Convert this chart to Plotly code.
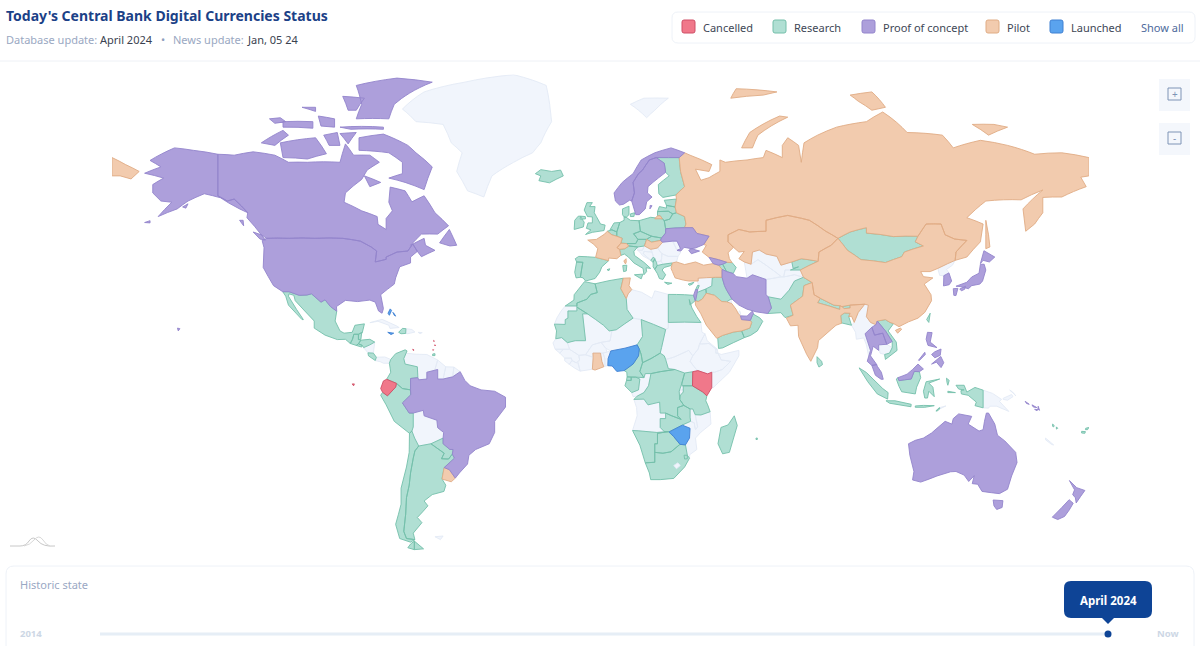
import plotly.graph_objects as go

# status of each country
cancelled = ["Ecuador", "Kenya", "Galapagos", "Curacao", "Eastern Caribbean"]
research = ["Mexico", "Guatemala", "Belize", "El Salvador", "Honduras", "Costa Rica", "Haiti", "Trinidad", "Colombia", "Peru",
            "Chile", "Argentina", "Paraguay", "Iceland", "UK", "Ireland", "Spain", "Portugal", "Belgium", "Netherlands",
            "Germany", "Denmark", "Austria", "Italy", "Poland", "Czechia", "Slovakia", "Montenegro", "Albania", "Greece",
            "Finland", "Estonia", "Latvia", "Lithuania", "Belarus", "Morocco", "Algeria", "Mauritania", "Egypt", "Chad",
            "Cameroon", "CAR", "Eq Guinea", "Gabon", "DRC", "Uganda", "Tanzania", "Zambia", "Namibia", "Botswana",
            "South Africa", "Eswatini", "Madagascar", "Mauritius", "Yemen", "Oman", "Iraq", "Jordan", "Lebanon", "Cyprus",
            "Armenia", "Azerbaijan", "Pakistan", "Kyrgyzstan", "Mongolia", "Nepal", "Bhutan", "Bangladesh", "Sri Lanka",
            "Vietnam", "Indonesia", "Taiwan", "Vanuatu", "Fiji"]
proof_of_concept = ["USA", "Canada", "Brazil", "Norway", "Sweden", "Ukraine", "Georgia", "Iran", "Israel", "UAE", "Thailand",
                    "Laos", "Malaysia", "Philippines", "South Korea", "Japan", "Australia", "New Zealand", "Solomon Islands"]
pilot = ["Russia", "China", "India", "Kazakhstan", "Turkey", "Saudi Arabia", "France", "Switzerland", "Hungary", "Tunisia",
         "Ghana", "Uruguay"]
launched = ["Nigeria", "Zimbabwe", "Bahamas", "Jamaica"]
no_status = ["Greenland", "Svalbard", "Cuba", "Dominican Rep", "Puerto Rico", "Nicaragua", "Panama", "Venezuela", "Guyana",
             "Suriname", "French Guiana", "Bolivia", "Falklands", "Slovenia", "Croatia", "Bosnia", "Serbia", "N Macedonia",
             "Romania", "Moldova", "Bulgaria", "W Sahara", "Libya", "Sudan", "South Sudan", "Niger", "Mali", "Senegal",
             "Guinea", "Guinea-Bissau", "Sierra Leone", "Liberia", "Ivory Coast", "Burkina Faso", "Togo", "Benin", "Congo",
             "Angola", "Mozambique", "Malawi", "Rwanda", "Burundi", "Ethiopia", "Eritrea", "Djibouti", "Somalia",
             "Qatar", "Kuwait", "Syria", "Afghanistan", "Turkmenistan", "Uzbekistan", "Tajikistan", "Myanmar", "Cambodia",
             "North Korea", "PNG", "Timor-Leste", "New Caledonia"]
# sits inside South Africa, so it goes on top
enclaves = ["Lesotho"]

# rough country outlines, lon/lat
outlines = {
    "Russia": [
        [(27.8,60.5),(31,62.5),(29.5,66),(29,69),(31,70),(33,69.5),(41,67.5),(40,66),(35,66.5),(37,64),(40,64.6),(44,66),(44,68.5),(46,68),(54,68.5),(60,69),(61,70.5),(67,69),(67,71.5),(69,73),(73,71.5),(74,68),(75,72),(80,73.5),(87,75),(98,76),(104,77.7),(113,74),(126,73.5),(130,71),(140,72.5),(150,71.5),(160,69.7),(170,70),(179.99,69),(179.99,65),(177,64.7),(179,62.5),(170,60),(163,59.9),(163,56),(160,53),(156.7,51),(155.7,57),(163,61.7),(155,59.3),(142,59),(135,54.7),(141,53),(140,48),(135,43.5),(130.7,42.5),(131,45),(135,48.4),(130.5,48.8),(127,50),(125.5,53),(120,53),(117,49.6),(108,49.5),(98,50.5),(98,52),(92,50.8),(87.5,49),(83,51),(77,54),(71,55),(69,55.3),(61,54),(61,51),(55,50.8),(51,51.5),(47,50),(47,48),(49,46.4),(47,44.8),(47.5,43),(48.5,41.8),(46.5,41.9),(43.5,42.7),(40,43.4),(37.5,45),(39,47),(38,47.2),(40,49.6),(35.5,50.4),(34,52),(31,52),(31.5,53),(31,55),(28,56),(27.5,57.5),(28,59.5)],
        [(-179.99,69),(-175,67.5),(-170,66),(-173,64.3),(-177,65),(-179.99,65)],
        [(142,54),(143,50),(143.5,46.5),(142,46),(142,50)],
        [(52,71),(56,71),(58,73.5),(69,76.8),(66,77),(55,74)],
        [(95,79.5),(100,78),(105,78.5),(100,81),(92,80.5)],
        [(48,80),(60,80.5),(65,81),(50,81.5)],
        [(137,75.5),(145,75.5),(150,75),(143,73.5)],
        [(20,54.4),(22.8,54.4),(22,55.2),(21,55.2)],
    ],
    "China": [[(73.6,39.5),(80.2,42.2),(80.5,45),(85,47),(87.5,49),(91,45.5),(96,42.7),(105,41.8),(111,43.6),(112,45),(119,46.8),(116,48),(117,49.6),(120,53),(125.5,53),(127,50),(130.5,48.8),(135,48.4),(131,45),(130.7,42.5),(128,41.5),(124.3,40),(121.5,39),(118,39),(119,37.4),(122.5,37),(119.3,35),(121.8,31.5),(122,29.5),(119.5,25.5),(117,23.5),(113.5,22.2),(110,20.5),(108,21.6),(106.7,22),(105,23),(102,22.5),(101.5,21.2),(99.5,22),(98,24),(98.7,28),(97.4,28.3),(92,28),(88.9,27.5),(88.2,27.8),(86,28),(81,30.3),(78.7,31.5),(78,35.5),(74.8,37.2)],
              [(108.7,19.2),(110.5,20),(111,19.6),(109.5,18.2)]],
    "Mongolia": [[(87.5,49),(91,45.5),(96,42.7),(105,41.8),(111,43.6),(112,45),(119,46.8),(116,48),(117,49.6),(108,49.5),(98,50.5),(98,52),(92,50.8)]],
    "Kazakhstan": [[(47,48),(49,46.4),(51,45),(53,45.2),(51,43),(53,42),(55.5,41.3),(56,45),(58.5,45.6),(61,44.4),(65,43.7),(66.5,41),(70.5,42),(74,43),(80.2,42.2),(80.5,45),(85,47),(87.5,49),(83,51),(77,54),(71,55),(69,55.3),(61,54),(61,51),(55,50.8),(51,51.5),(47,50)]],
    "Kyrgyzstan": [[(70.5,42),(74,43),(80.2,42.2),(73.7,39.5),(70,39.5),(73,40.5),(71,40)]],
    "Tajikistan": [[(67.5,37.3),(68,39.5),(70,39.5),(73.7,39.5),(74.8,37.2),(71.5,38)]],
    "Uzbekistan": [[(56,45),(58.5,45.6),(61,44.4),(65,43.7),(66.5,41),(70.5,42),(71,40),(73,40.5),(70,39.5),(68,39.5),(67.5,37.3),(66.5,37.5),(61,41),(58,42.7),(55.5,41.3)]],
    "Turkmenistan": [[(53,42),(55.5,41.3),(58,42.7),(61,41),(66.5,37.5),(64.5,37),(61,36.5),(56,38),(54,36.9),(53.5,39.5)]],
    "Afghanistan": [[(61,36.5),(64.5,37),(67.5,37.3),(71.5,38),(74.8,37.2),(71.5,36),(69.5,33),(66.5,30),(61.8,30.8),(61,31.5)]],
    "Pakistan": [[(61.8,30.8),(66.5,30),(69.5,33),(71.5,36),(74.8,37.2),(78,35.5),(75,34.5),(74.5,31),(70,28),(71,24.5),(68,23.7),(66.5,25.4),(61.6,25.1),(63,27)]],
    "Iran": [[(44.8,39.7),(46.5,39),(48.9,38.4),(50,37.4),(54,36.9),(56,38),(61,36.5),(61,31.5),(61.8,30.8),(63,27),(61.6,25.1),(57.3,25.7),(54,26.6),(51,28),(48.5,30),(46.5,33),(45.7,34.5),(44.8,37.2)]],
    "India": [[(78,35.5),(78.7,31.5),(81,30.3),(80,28.8),(88.2,26.5),(88.2,27.8),(88.9,27.5),(89.8,26.8),(92,27),(92,28),(97.4,28.3),(95,25.5),(93.5,22),(92.5,24.2),(91.5,24),(92,25.2),(89.9,25.3),(88.5,24.4),(88.8,21.7),(86.8,21),(85,19.5),(80.3,15.5),(80,13),(77.5,8),(76,10.5),(73,17),(72.8,21),(70,20.8),(68.5,23.5),(71,24.5),(70,28),(74.5,31),(75,34.5)]],
    "Nepal": [[(80,28.8),(81,30.3),(86,28),(88.2,27.8),(88.2,26.5)]],
    "Bhutan": [[(88.9,27.5),(92,28),(92,27),(89.8,26.8)]],
    "Bangladesh": [[(88.5,24.4),(89.9,25.3),(92,25.2),(91.5,24),(92.5,21),(89,21.8),(88.8,21.7)]],
    "Sri Lanka": [[(79.8,9.7),(81.5,8),(81.8,6.8),(80.5,5.9),(79.8,7.5)]],
    "Myanmar": [[(92.5,21),(94,18.5),(94.3,16),(97,16.5),(98,14),(98.8,10),(99.5,12),(98.5,15),(97.5,18),(100,20.3),(101.5,21.2),(99.5,22),(98,24),(98.7,28),(97.4,28.3),(95,25.5),(93.5,22)]],
    "Thailand": [[(97.5,18),(100,20.3),(101,17.5),(104,18.2),(105.5,14.2),(102.5,14),(102.5,12),(100.5,13.5),(99.5,10),(101.8,6.8),(100,6.5),(98.3,8),(99.5,12),(98.5,15)]],
    "Laos": [[(100,20.3),(101.5,21.2),(102,22.5),(105,19),(107.5,15.2),(105.5,14.2),(104,18.2),(101,17.5)]],
    "Cambodia": [[(102.5,14),(105.5,14.2),(107.5,13),(106.5,11),(104.7,10.5),(103,11)]],
    "Vietnam": [[(102,22.5),(105,23),(106.7,22),(108,21.6),(106,19),(109,15),(109.3,12),(105,8.7),(104.7,10.5),(106.5,11),(107.5,13),(107.5,15.2),(105,19)]],
    "Malaysia": [[(100,6.5),(101.8,6.8),(102,6.2),(103.5,4),(104.2,1.4),(103.4,1.4),(101.3,2.9)],
                 [(109.6,2),(111.5,2.7),(113,3.3),(115,5),(117,7),(119,5.2),(117.5,4.2),(115.6,4.3),(114.5,1.5),(112,1.2),(110,0.9)]],
    "Indonesia": [[(95.3,5.6),(98,3.9),(104,-2),(106,-3.5),(105.8,-5.9),(102,-4),(98.5,0.5)],
                  [(105.2,-6.5),(108.5,-6.5),(114.5,-7.8),(114.4,-8.7),(106.5,-7.4)],
                  [(109,1.5),(109.6,2),(110,0.9),(112,1.2),(114.5,1.5),(115.6,4.3),(117.5,4.2),(118,2),(116.5,-1.5),(116,-4),(111,-3.2),(110,-1.2)],
                  [(119.5,-5.5),(119,-3),(120,0.5),(125,1.5),(121,0),(122.5,-1.5),(123,-5),(121,-3),(120.5,-5.5)],
                  [(131,-0.8),(134,-0.8),(135,-3.3),(138,-1.6),(141,-2.6),(141,-9.1),(138,-8.3),(138.5,-7),(135.5,-4.5),(133,-4),(132.8,-2.8),(134,-2.5),(132,-2.2)],
                  [(127.5,1.8),(128.5,1),(128,-0.8),(127.7,0.2)], [(128,-3),(130.8,-3.5),(128,-3.5)],
                  [(123.6,-10.2),(124.9,-9),(125,-9.5),(124,-10.3)], [(116,-8.4),(119,-8.2),(123,-8.3),(119.5,-8.9),(116,-8.9)]],
    "Timor-Leste": [[(125,-9),(127.3,-8.4),(125,-9.5)]],
    "Philippines": [[(120.5,18.5),(122.2,18.4),(121.5,15),(124,13),(120.7,13.8),(120,16)], [(122,7),(125.4,9.8),(126.5,7.5),(125.5,5.7),(123.8,7.7)],
                    [(122,10.5),(123.2,11.5),(125.5,12.5),(125.2,10.2),(123.2,9.3)], [(117.2,8.4),(119.5,11.3),(119.7,10.5),(117.5,8.3)]],
    "Taiwan": [[(120.2,23),(121.5,25.2),(121,22)]],
    "Japan": [[(131,34.3),(135,35.6),(136.8,37.3),(139.5,38.5),(140,41.3),(141.4,41.3),(142,39.5),(140.8,36),(139.8,35),(136.8,34.5),(135.6,33.5),(132.5,34.2)],
              [(140,41.5),(141.3,45.4),(145.3,43.5),(143.3,42),(141,42.5)], [(130,33.5),(131.7,33.6),(131,31.2),(130.2,31.3)], [(132.4,33.4),(134.5,34.3),(134.2,33.3),(133,32.8)]],
    "North Korea": [[(124.3,40),(128,41.5),(130.7,42.5),(129.7,41),(127.5,39.7),(128.4,38.6),(126.5,37.7),(125,37.8)]],
    "South Korea": [[(126.5,37.7),(128.4,38.6),(129.4,36),(128.5,34.8),(126.4,34.4),(126.5,37)]],
    "Australia": [[(113.5,-22),(114,-26),(115.5,-31.5),(115,-34.3),(118,-35),(124,-33),(129,-31.6),(131,-31.5),(134,-32.7),(135.7,-34.8),(137.7,-32.9),(137,-35.5),(139,-35.7),(140.6,-38),(144,-38.4),(147,-38.7),(150,-37.3),(151.5,-33),(153.5,-28.5),(153,-25),(149,-21),(146.3,-19),(145.3,-15),(143,-11),(142.2,-11),(141.5,-14),(141,-17),(139.5,-17.5),(135.5,-15),(136.8,-12.2),(132,-11.3),(130,-13),(129.5,-15),(127,-14),(124,-16.5),(122,-18.2),(119,-20),(116,-20.8)],
                  [(144.7,-40.7),(148.3,-40.9),(148,-43),(146,-43.6),(145,-42.5)]],
    "New Zealand": [[(172.8,-34.5),(175.5,-36.8),(178.5,-37.7),(177,-39.5),(175.3,-41.6),(175,-40),(174,-39),(174.7,-37.5)],
                    [(172.7,-40.6),(174.2,-41.7),(172.8,-43.7),(171,-45.7),(168.5,-46.6),(166.5,-45.9),(170,-43)]],
    "PNG": [[(141,-2.6),(144.5,-3.8),(147.8,-6),(147,-6.7),(150.5,-10.4),(146,-8.5),(143.5,-8.5),(143,-9.2),(141,-9.1)],
            [(148.4,-5.6),(151.5,-4.2),(152,-5),(150,-6.3),(148.4,-6)], [(150.8,-2.6),(152.8,-4.3),(153,-4.7),(151.8,-3.2)]],
    "Solomon Islands": [[(156.5,-6.7),(158,-7.8),(157,-7.5)], [(159,-8),(160.8,-9),(159.5,-8.8)], [(160,-9.6),(161.3,-9.8),(160.5,-10.1)], [(161.3,-8.5),(161.8,-10),(161.2,-9.5)]],
    "Vanuatu": [[(166.6,-15),(167.2,-15.5),(167,-16),(166.6,-15.8)], [(168,-16),(168.5,-16.5),(168,-16.8)]],
    "Fiji": [[(177.3,-17.6),(178.7,-17.7),(178.5,-18.3),(177.3,-18.2)], [(178.8,-16.5),(179.99,-16.2),(179.5,-17),(178.7,-17)]],
    "New Caledonia": [[(164,-20),(167,-22.4),(166.3,-22.3),(164,-20.6)]],
    "Saudi Arabia": [[(34.9,29.5),(36,29.2),(37.5,30),(39,32),(42,31.3),(44.7,29.2),(46.5,29.1),(48.4,28.5),(50,26.5),(50.8,25),(51.6,24.3),(52,23),(55.2,22.7),(55.7,22),(55,20),(52,19),(49,18.6),(45,17.4),(43.2,16.5),(42.8,16.4),(39,21),(37,25),(35,28)]],
    "Yemen": [[(43.2,16.5),(45,17.4),(49,18.6),(52,19),(53,16.6),(45,12.9),(43.5,12.7)]],
    "Oman": [[(52,19),(55,20),(55.7,22),(55.2,22.7),(56,24.5),(56.3,24.9),(58.7,23.6),(59.8,22.4),(57.8,19),(55.3,17.4),(53,16.6)]],
    "UAE": [[(51.6,24.3),(54,24.2),(56,26),(56.4,25),(56,24.5),(55.2,22.7),(52,23)]],
    "Qatar": [[(50.8,25),(51.2,26.1),(51.6,25.5),(51.6,24.6)]],
    "Kuwait": [[(46.5,29.1),(48.4,28.5),(48,30),(47.7,30.1)]],
    "Iraq": [[(38.8,33.4),(41,34.4),(41.2,37),(42.4,37.2),(44.8,37.2),(45.7,34.5),(46.5,33),(48.5,30),(48,30),(46.5,29.1),(44.7,29.2),(42,31.3),(39,32)]],
    "Syria": [[(35.8,35.6),(36,36.9),(41.2,37),(41,34.4),(38.8,33.4),(36,32.4),(35.8,33.2),(36.4,34.5)]],
    "Jordan": [[(35,29.5),(36,29.2),(37.5,30),(39,32),(38.8,33.4),(36,32.4),(35.5,32.4)]],
    "Israel": [[(34.3,31.3),(35,33.1),(35.8,33.2),(35.5,31.5),(35,29.5),(34.9,29.5)]],
    "Lebanon": [[(35,33.1),(35.8,34.6),(36.4,34.5),(35.8,33.2)]],
    "Cyprus": [[(32.3,35),(34.5,35.6),(33.7,34.9),(32.8,34.6)]],
    "Turkey": [[(26,40),(26.5,41.7),(28,42),(31,41.2),(35,42),(38,41),(41.5,41.5),(43.5,41),(44.8,39.7),(44.8,37.2),(42.4,37.2),(36,36.9),(36,36),(32.5,36),(30.5,36.3),(27.5,37),(26.5,39)]],
    "Georgia": [[(40,43.4),(43.5,42.7),(46.5,41.9),(45,41.3),(43.5,41),(41.5,41.5)]],
    "Armenia": [[(43.5,41),(45,41.3),(46.5,39),(44.8,39.7)]],
    "Azerbaijan": [[(45,41.3),(46.5,41.9),(48.5,41.8),(50,40.3),(48.9,38.4),(46.5,39)]],
    "Morocco": [[(-13,27.7),(-8.7,27.7),(-8.7,28.7),(-5,30),(-3.6,31.6),(-1.2,32.2),(-2,35.1),(-5.9,35.8),(-9.7,31.5),(-9.8,29.7)]],
    "W Sahara": [[(-17,21.4),(-13,21.3),(-13,23),(-12,23.5),(-12,26),(-8.7,26),(-8.7,27.7),(-13,27.7),(-14.5,26),(-16,23.7)]],
    "Mauritania": [[(-17,21.4),(-13,21.3),(-13,23),(-12,23.5),(-12,26),(-8.7,26),(-8.7,27.3),(-4.8,25),(-6.6,25),(-5.5,15.5),(-9.3,15.5),(-12.2,14.8),(-14.3,16.6),(-16.5,16.2),(-16.2,19)]],
    "Algeria": [[(-8.7,27.7),(-8.7,27.3),(-4.8,25),(1.1,21),(3.2,19),(5.8,19.4),(12,23.5),(9.8,26.5),(9.5,30.2),(7.5,33.5),(8.4,36.9),(-2,35.1),(-1.2,32.2),(-3.6,31.6),(-5,30),(-8.7,28.7)]],
    "Tunisia": [[(8.4,36.9),(11,37),(10.5,34.5),(11.5,33.2),(10.2,31.8),(9.5,30.2),(7.5,33.5)]],
    "Libya": [[(11.5,33.2),(15.2,32.3),(19,30.3),(20,32.8),(25,31.6),(25,20),(24,19.5),(15,23),(12,23.5),(9.8,26.5),(9.5,30.2),(10.2,31.8)]],
    "Egypt": [[(25,31.6),(31,31.5),(34.3,31.3),(34.9,29.5),(33,28),(32.7,29.9),(33.7,27),(35.5,24),(37,22),(25,22)]],
    "Sudan": [[(25,22),(37,22),(37.4,18.5),(38.5,18),(36.5,14.3),(36,12.5),(34,10),(32.5,12),(27,9.5),(24,8.7),(23.5,10),(22,11),(22.5,13),(24,19.5),(25,20)]],
    "South Sudan": [[(24,8.7),(27,9.5),(32.5,12),(34,10),(33,8),(35,5.4),(35.9,4.6),(34,4.2),(31,3.7),(27.4,5),(25,5.3)]],
    "Chad": [[(15,23),(24,19.5),(22.5,13),(22,11),(18.6,9),(15.5,7.5),(15,10.5),(14.3,12.5),(13.5,14),(15.5,17)]],
    "Niger": [[(12,23.5),(15,23),(15.5,17),(13.5,14),(9,12.8),(3.8,11.8),(2,12.7),(0.2,14.9),(3.5,15.4),(4.2,19),(5.8,19.4)]],
    "Mali": [[(-12.2,14.8),(-9.3,15.5),(-5.5,15.5),(-6.6,25),(-4.8,25),(1.1,21),(3.2,19),(4.2,19),(3.5,15.4),(0.2,14.9),(-3,14),(-5.5,10.4),(-8,10.2),(-11.4,12.4)]],
    "Senegal": [[(-16.5,16.2),(-14.3,16.6),(-12.2,14.8),(-11.4,12.4),(-16.7,12.4),(-17.5,14.7)]],
    "Guinea-Bissau": [[(-16.7,12.4),(-13.7,12.4),(-15,11)]],
    "Guinea": [[(-15,11),(-13.7,12.4),(-11.4,12.4),(-8,10.2),(-7.7,8.5),(-9,7.5),(-10.5,8.3),(-10.7,9.2),(-13.2,9.2)]],
    "Sierra Leone": [[(-13.2,9.2),(-10.7,9.2),(-10.5,8.3),(-11.5,6.9),(-13.2,8.2)]],
    "Liberia": [[(-11.5,6.9),(-10.5,8.3),(-9,7.5),(-8.3,7.5),(-7.5,4.4),(-9.5,5.5)]],
    "Ivory Coast": [[(-8,10.2),(-5.5,10.4),(-2.7,9.5),(-3,5.1),(-7.5,4.4),(-8.3,7.5),(-7.7,8.5)]],
    "Burkina Faso": [[(-5.5,10.4),(-3,14),(0.2,14.9),(2,12.7),(2.4,11.4),(0.9,11),(0,11),(-2.8,11),(-2.7,9.5)]],
    "Ghana": [[(-2.8,11),(0,11),(0.5,8),(1.2,6),(-2,4.8),(-3,5.1),(-2.7,9.5)]],
    "Togo": [[(0,11),(0.9,11),(1.6,9),(1.6,6.2),(1.2,6),(0.5,8)]],
    "Benin": [[(0.9,11),(2.4,11.4),(3.8,11.8),(2.8,9),(2.7,6.4),(1.6,6.2),(1.6,9)]],
    "Nigeria": [[(2.7,6.4),(2.8,9),(3.8,11.8),(9,12.8),(13.5,14),(14.3,12.5),(14,10),(12,7),(8.7,4.6),(6,4.3),(4.3,6.3)]],
    "Cameroon": [[(8.7,4.6),(12,7),(14,10),(14.3,12.5),(15,10.5),(15.5,7.5),(14.5,4.3),(16,2),(13,2.2),(9.8,2.3),(9.7,4)]],
    "CAR": [[(15.5,7.5),(18.6,9),(22,11),(23.5,10),(24,8.7),(25,5.3),(27.4,5),(22,4.2),(18.6,3.5),(16.5,3.5),(16,2),(14.5,4.3)]],
    "Eq Guinea": [[(9.8,2.3),(11.3,2.2),(11.3,1),(9.6,1)]],
    "Gabon": [[(9.6,1),(11.3,1),(11.3,2.2),(13,2.2),(14.5,1.5),(14,-2.5),(11.5,-3.5),(9,-1)]],
    "Congo": [[(13,2.2),(16,2),(16.5,3.5),(18.6,3.5),(17.7,-1),(16,-3.5),(13.5,-4.8),(12,-5),(11.5,-3.5),(14,-2.5),(14.5,1.5)]],
    "DRC": [[(18.6,3.5),(22,4.2),(27.4,5),(31,3.7),(30,0),(29,-3),(29.2,-6),(30.7,-8.2),(28.4,-9),(28.4,-12),(29.7,-13.3),(26,-11.9),(24,-11),(22,-11),(21.8,-7),(17.5,-8),(16,-5.9),(12.3,-6),(13.5,-4.8),(16,-3.5),(17.7,-1)]],
    "Angola": [[(12.3,-6),(16,-5.9),(17.5,-8),(21.8,-7),(22,-11),(24,-11),(24,-13),(22,-13),(22,-16.2),(23.4,-17.6),(20.8,-18),(13.9,-17.4),(11.8,-17.3),(13.5,-12),(13.3,-9)]],
    "Zambia": [[(22,-13),(24,-13),(24,-11),(26,-11.9),(29.7,-13.3),(28.4,-12),(28.4,-9),(30.7,-8.2),(33,-9.5),(33,-12.5),(33.2,-14),(30.2,-15.3),(28.9,-16),(25.3,-17.8),(23.4,-17.6),(22,-16.2)]],
    "Namibia": [[(11.8,-17.3),(13.9,-17.4),(20.8,-18),(25,-17.7),(21,-18.3),(21,-22),(20,-22),(20,-28.4),(16.5,-28.6),(14.5,-22.5)]],
    "Botswana": [[(21,-18.3),(25,-17.7),(27,-19.5),(29.3,-22.2),(26,-24.8),(23,-25.3),(20,-25),(20,-22),(21,-22)]],
    "Zimbabwe": [[(25.3,-17.8),(28.9,-16),(30.2,-15.4),(33,-16.5),(32.8,-20),(31.3,-22.4),(29.3,-22.2),(27,-19.5)]],
    "South Africa": [[(16.5,-28.6),(20,-28.4),(20,-25),(23,-25.3),(26,-24.8),(29.3,-22.2),(31.3,-22.4),(32,-26),(32.8,-27),(31,-30),(27,-33.8),(22,-34.2),(18.5,-34.2),(18,-32)]],
    "Lesotho": [[(27,-29.5),(28.5,-28.6),(29.4,-29.5),(28,-30.6)]],
    "Eswatini": [[(30.8,-26),(32,-26),(32,-27.2),(31,-27.3)]],
    "Mozambique": [[(30.2,-15.4),(33.2,-14),(34.5,-14.5),(35,-17),(35.8,-16),(34.9,-11.6),(37,-11.7),(40.4,-10.5),(40.7,-15),(37,-17.9),(35,-20),(35.5,-24),(32.9,-25.8),(32.8,-27),(32,-26),(31.3,-22.4),(32.8,-20),(33,-16.5)]],
    "Malawi": [[(33,-9.5),(34,-9.5),(34.9,-11.6),(35.8,-16),(35,-17),(34.5,-14.5),(33.2,-14),(33,-12.5)]],
    "Tanzania": [[(30.5,-1),(33.9,-1),(37.7,-3.3),(39.2,-4.7),(38.8,-6.5),(39.5,-8),(40.4,-10.5),(37,-11.7),(34.9,-11.6),(34,-9.5),(33,-9.5),(30.7,-8.2),(29.2,-6),(29.5,-4.4),(30.5,-3.3)]],
    "Kenya": [[(33.9,-1),(34,4.2),(35.9,4.6),(39.5,3.4),(41,4),(41,-1.7),(39.2,-4.7),(37.7,-3.3)]],
    "Uganda": [[(30,0),(31,3.7),(34,4.2),(33.9,-1),(30,-1)]],
    "Rwanda": [[(29,-1.3),(30.5,-1.2),(30.5,-2.4),(29,-2.7)]],
    "Burundi": [[(29,-2.7),(30.5,-2.4),(30.5,-3.3),(29.5,-4.4)]],
    "Ethiopia": [[(36.5,14.3),(38.5,14.4),(40,14.5),(42.5,12.5),(42.5,11),(43.3,11),(44.5,8.5),(48,8),(44.9,5),(42,4),(41,4),(39.5,3.4),(35.9,4.6),(35,5.4),(33,8),(34,10),(36,12.5)]],
    "Eritrea": [[(36.5,14.3),(38.5,18),(39.3,15.5),(43,12.5),(42.5,12.5),(40,14.5),(38.5,14.4)]],
    "Djibouti": [[(42.5,12.5),(43,12.5),(43.3,11),(42.5,11)]],
    "Somalia": [[(43.3,11),(44.5,10.5),(51,12),(51,10),(47.5,4),(41.5,-1.7),(41,-1.7),(41,4),(42,4),(44.9,5),(48,8),(44.5,8.5)]],
    "Madagascar": [[(49.3,-12),(50.4,-15.5),(47.5,-25),(45,-25.5),(43.3,-22),(44.4,-16.2),(47,-15.3)]],
    "Mauritius": [[(57.3,-20),(57.8,-20),(57.8,-20.5),(57.3,-20.5)]],
    "Norway": [[(5,61),(5.5,59),(7,58),(8.5,58.2),(10.7,59.2),(11.5,59),(12.5,61),(12,63.5),(14,65.5),(15.5,66.3),(18,68.5),(20.5,69),(25,69),(29,69),(31,70),(26,71),(20,70),(15,68.5),(12,65.5),(8,63.5)]],
    "Sweden": [[(11.5,59),(13,55.5),(14.3,55.5),(16.5,57),(17,58.8),(19,60),(17.3,61),(17.5,62.5),(21.3,64.5),(24,65.8),(23.5,67.8),(20.5,69),(18,68.5),(15.5,66.3),(14,65.5),(12,63.5),(12.5,61)], [(18.2,57),(19,57.8),(18.3,57.9)]],
    "Finland": [[(20.5,69),(23.5,67.8),(24,65.8),(25.3,65),(21.3,63),(21.5,60.8),(23,59.9),(27.8,60.5),(31,62.5),(29.5,66),(29,69),(25,69)]],
    "Denmark": [[(8.1,57),(10.5,57.7),(10.5,55.5),(9.5,54.8),(8.7,54.9),(8.1,55.5)], [(11,55.7),(12.6,56),(12.3,55),(11,55)]],
    "UK": [[(-5.5,50.1),(-3,50.7),(1.3,51.2),(1.7,52.7),(0,53),(-1.5,55),(-2.3,56),(-2,57.6),(-4,57.6),(-3,58.6),(-5,58.6),(-6,56.7),(-4.8,55),(-3,54.9),(-3,53.3),(-4.6,53.3),(-5.2,51.8),(-3.5,51.4)], [(-7.3,55.1),(-5.6,55),(-5.5,54.4),(-6.8,54.3)]],
    "Ireland": [[(-6.8,54.3),(-6,53.5),(-6.3,52.2),(-9.7,51.5),(-9.5,54),(-8.2,55.1),(-7.3,55.1),(-7.5,54.3)]],
    "Iceland": [[(-24,65.5),(-22,66.4),(-18,66),(-14.7,66.3),(-13.7,65),(-18.8,63.4),(-22.7,63.9),(-22,65)]],
    "Svalbard": [[(11,79),(16,80),(25,80),(20,78),(17,76.7),(14,78)]],
    "France": [[(-4.7,48.5),(-1.5,48.7),(1.5,50.2),(2.5,51),(4.2,50),(6,49.6),(8,49),(7.5,47.6),(6.1,46.3),(7,45.8),(7.5,44),(6,43),(3,43.2),(3,42.4),(-1.8,43.4),(-1,46),(-2.5,47.3)], [(8.6,42.3),(9.4,43),(9.5,42),(9.2,41.4)]],
    "Spain": [[(-9.3,43),(-8,43.7),(-1.8,43.4),(3,42.4),(0.5,40.5),(-0.3,38.8),(-2,36.8),(-5.5,36),(-6.4,37),(-7.4,37.2),(-7,39.5),(-6.5,41.9),(-8.8,42)], [(2.4,39.6),(3.4,39.9),(3.1,39.3)]],
    "Portugal": [[(-8.8,42),(-6.5,41.9),(-7,39.5),(-7.4,37.2),(-9,37),(-9.5,38.8)]],
    "Belgium": [[(2.5,51),(4.2,51.4),(6,50.8),(6,49.6),(4.2,50)]],
    "Netherlands": [[(3.5,51.4),(5,53.3),(7.1,53.4),(6,50.8),(4.2,51.4)]],
    "Germany": [[(6,50.8),(7.1,53.4),(8.7,54),(8.7,54.9),(9.5,54.8),(11,54),(14.2,53.9),(14.7,51),(12.2,50.3),(13.8,48.7),(13,47.5),(9.6,47.5),(7.5,47.6),(8,49),(6,49.6)]],
    "Switzerland": [[(6.1,46.3),(7.5,47.6),(9.6,47.5),(10.4,46.8),(9,46),(7,45.8)]],
    "Austria": [[(9.6,47.5),(13,47.5),(13.8,48.7),(17,48.7),(16.2,46.8),(13.7,46.5),(10.4,46.8)]],
    "Italy": [[(7,45.8),(9,46),(10.4,46.8),(13.7,46.5),(12.3,45.2),(12.5,44),(16,41.9),(18.5,40),(16.8,40.2),(17,39),(16,38),(15.7,40),(12.3,41.7),(10.3,43.5),(8.8,44.4),(7.5,44)], [(12.5,38),(15.6,38.2),(15,36.7)], [(8.2,40.9),(9.7,41),(9.5,39.2),(8.5,39)]],
    "Poland": [[(14.2,53.9),(18.5,54.8),(22.8,54.4),(23.5,53.9),(24,51.7),(24,50.5),(22.5,49.1),(18.8,49.6),(14.7,51)]],
    "Czechia": [[(12.2,50.3),(14.7,51),(18.8,49.6),(17,48.7),(13.8,48.7)]],
    "Slovakia": [[(17,48.7),(18.8,49.6),(22.5,49.1),(22.1,48.4),(18.8,47.9)]],
    "Hungary": [[(16.2,46.8),(17,48.7),(18.8,47.9),(22.1,48.4),(22.9,47.9),(21,46.2),(18.5,45.8)]],
    "Slovenia": [[(13.7,46.5),(16.2,46.8),(15.4,45.5),(13.7,45.5)]],
    "Croatia": [[(13.7,45.5),(15.4,45.5),(16.2,46.8),(18.5,45.8),(19,45),(16,45.2),(15.8,44.5),(18.5,42.5),(15.5,43.9),(14.5,45)]],
    "Bosnia": [[(16,45.2),(19,45),(19.5,43.5),(18.5,42.5),(15.8,44.5)]],
    "Serbia": [[(19,45),(18.5,45.8),(21,46.2),(22.6,44.5),(22.5,43),(22.3,42.3),(20.6,41.9),(20,43),(19.5,43.5)]],
    "Montenegro": [[(18.5,42.5),(19.5,43.5),(20,43),(19.4,41.9)]],
    "Albania": [[(19.4,41.9),(20,43),(20.6,41.9),(20.9,40.9),(20,39.7),(19.4,40.5)]],
    "N Macedonia": [[(20.6,41.9),(22.3,42.3),(23,41.3),(20.9,40.9)]],
    "Romania": [[(21,46.2),(22.9,47.9),(26.6,48.2),(28.2,45.5),(29.6,45),(28.6,43.7),(25,43.7),(22.6,44.5)]],
    "Moldova": [[(26.6,48.2),(28.2,48.2),(29.5,46),(28.2,45.5)]],
    "Bulgaria": [[(22.6,44.5),(25,43.7),(28.6,43.7),(28,42),(26.5,41.7),(23,41.3),(22.3,42.3),(22.5,43)]],
    "Greece": [[(20,39.7),(20.9,40.9),(23,41.3),(26.5,41.7),(26,40.9),(23.5,40.3),(22.7,39.5),(24,38),(23,36.5),(21.7,36.8),(21,38.3)], [(23.6,35.6),(26.3,35.3),(24.8,34.9)]],
    "Ukraine": [[(22.1,48.4),(22.5,49.1),(24,50.5),(24,51.7),(31,52),(34,52),(35.5,50.4),(40,49.6),(38,47.2),(35,46.2),(33.5,46),(36.5,45.3),(33.5,44.5),(32.5,45.5),(33.5,46),(30.8,46.4),(29.6,45.3),(28.2,45.5),(29.5,46),(28.2,48.2),(26.6,48.2),(22.9,47.9)]],
    "Belarus": [[(23.5,53.9),(25.5,54.3),(26.6,55.7),(28,56),(31,55),(31.5,53),(31,52),(24,51.7)]],
    "Lithuania": [[(21,55.2),(21,56.3),(25,56.4),(26.6,55.7),(25.5,54.3),(23.5,53.9),(22.8,54.4),(22,55.2)]],
    "Latvia": [[(21,56.3),(21.7,57.6),(24.3,57.2),(24.3,57.9),(27.5,57.5),(28,56),(26.6,55.7),(25,56.4)]],
    "Estonia": [[(23.5,59.2),(28,59.5),(27.5,57.5),(24.3,57.9),(24,58.4)]],
    "Greenland": [[(-73,78.2),(-65,81),(-50,82.5),(-32,83.6),(-20,82),(-18,76),(-22,72),(-25,70),(-32,68),(-40,65),(-43,60),(-49,61.5),(-53,66),(-51,70),(-55,72),(-58,75.5),(-68,76)]],
    "Canada": [[(-141,69.7),(-135,69.5),(-128,70.2),(-120,69.5),(-115,68),(-108,68),(-96,68),(-94,71.8),(-91,69.5),(-85,69.5),(-81.5,68),(-86,66.3),(-88,64.2),(-94,61),(-94.5,58.7),(-88,56.5),(-82.3,55),(-82,52.9),(-79,51.5),(-79,54.5),(-76.7,56.5),(-78,58.7),(-77.5,62.4),(-72,61.5),(-69.5,58.8),(-65,60.3),(-61,56),(-56,52.5),(-60,50.2),(-66,50.2),(-70,47),(-65,49),(-64.5,47),(-61,45.5),(-66,43.6),(-67.5,45.2),(-69.2,47.4),(-71,45.3),(-75,45),(-79,43.5),(-79,42.8),(-83,42),(-82.5,45.3),(-84.5,46.5),(-88.5,48.2),(-95,49),(-105,49),(-115,49),(-123,49),(-125,50),(-130.3,54.7),(-130,56),(-135,59.5),(-137.5,59),(-141,60.3)],
               [(-128,50.8),(-125,50),(-123.5,48.5),(-125.5,48.8)], [(-133,54),(-131.7,54),(-131.5,52.5)], [(-59.3,47.7),(-55.7,51.5),(-53,47),(-55.5,46.8)],
               [(-65,61.8),(-72,63.5),(-78,64.5),(-73,65.5),(-73,68),(-78,70),(-89,70.5),(-89,73),(-80,73.7),(-71,71.5),(-68,70),(-62,67)],
               [(-87,65),(-81,63.5),(-85,62.5)], [(-90,76.5),(-78,76.5),(-76,79),(-62,82.5),(-75,83.1),(-90,82),(-88,79)], [(-95,80.3),(-87,80),(-90,78),(-93,78)],
               [(-96,75),(-80,75),(-80,74.6),(-92,74.6)], [(-96,73.8),(-90,74),(-93,71.8)], [(-102,73.5),(-97,74),(-96,71.5),(-100,71.5)],
               [(-118,72),(-105,73),(-101,69.8),(-108,68.7),(-117,69)], [(-125,72),(-117,74.4),(-115,73.5),(-120,71.5)], [(-117,76),(-106,76),(-106,74.8),(-117,75)],
               [(-122,76.5),(-118,76.7),(-116,76),(-120,75.7)], [(-104,77),(-98,76.5),(-98,75),(-103,75.2)], [(-110,78.5),(-105,78.5),(-105,77.8)]],
    "USA": [[(-123,49),(-115,49),(-105,49),(-95,49),(-88.5,48.2),(-84.5,46.5),(-82.5,45.3),(-83,42),(-79,42.8),(-79,43.5),(-75,45),(-71,45.3),(-69.2,47.4),(-67.5,45.2),(-70,43.5),(-70,41.7),(-74,40.5),(-75.5,37),(-76,35),(-81,31.5),(-80,26.8),(-80.5,25.2),(-81.8,26),(-83,29),(-85,29.7),(-89.5,29.2),(-94,29.6),(-97.3,27.5),(-97.2,25.9),(-99.5,27.5),(-101.5,29.8),(-103,29),(-106.5,31.8),(-108.2,31.4),(-111,31.3),(-114.8,32.5),(-117.1,32.5),(-120.5,34.5),(-122.5,37.5),(-124.3,40.3),(-124,46.3),(-124.7,48.4)],
            [(-141,69.7),(-141,60.3),(-137.5,59),(-135,59.5),(-130,56),(-133,57),(-137,58.5),(-140,59.8),(-146,60.8),(-152,59),(-156,57),(-163,55),(-158,58.7),(-162,59),(-165,61),(-165,63),(-161,64.5),(-168,65.6),(-162,67),(-166,68.4),(-157,71),(-150,70.5)],
            [(-166,53.9),(-168,53.4),(-166,53.3)], [(-152,58.3),(-154,57.5),(-152.8,57.2)], [(-155.9,20),(-155,19.8),(-155.6,19)]],
    "Mexico": [[(-117.1,32.5),(-114.8,32.5),(-111,31.3),(-108.2,31.4),(-106.5,31.8),(-103,29),(-101.5,29.8),(-99.5,27.5),(-97.2,25.9),(-97.8,22.5),(-96,19),(-94.5,18.2),(-91.5,18.5),(-90.5,21),(-87,21.5),(-87.8,18.3),(-88,18.4),(-89.2,17.8),(-90.9,17.8),(-91.4,16),(-92.2,14.5),(-94,16),(-97,15.9),(-101.5,17.5),(-105.5,20),(-105.5,22.5),(-109,26),(-112.5,29.5),(-113,31.3),(-114.8,31.8),(-115,31),(-112,26.5),(-109.5,23),(-110,23),(-112,25),(-115,28),(-116,31)]],
    "Guatemala": [[(-92.2,14.5),(-91.4,16),(-90.9,17.8),(-89.2,17.8),(-89.2,15.9),(-88.3,15.7),(-89.2,14.4),(-90,13.8)]],
    "Belize": [[(-89.2,17.8),(-88,18.4),(-88.3,16),(-89.2,15.9)]],
    "El Salvador": [[(-90,13.8),(-89.2,14.4),(-87.8,13.8),(-88,13.2)]],
    "Honduras": [[(-89.2,14.4),(-88.3,15.7),(-85,16),(-83.2,15),(-85,14),(-87.3,13),(-87.8,13.8)]],
    "Nicaragua": [[(-87.3,13),(-85,14),(-83.2,15),(-83.7,11),(-85.7,11.1)]],
    "Costa Rica": [[(-85.7,11.1),(-83.7,11),(-82.6,9.5),(-83,8.3),(-85.5,10)]],
    "Panama": [[(-83,8.3),(-82.6,9.5),(-79.5,9.6),(-77.3,8.7),(-77.8,7.3),(-80,7.3),(-81,7.8)]],
    "Cuba": [[(-85,21.9),(-80.5,23.1),(-75,20.7),(-74.2,20.2),(-77.6,19.9),(-78,21),(-82,22.4)]],
    "Jamaica": [[(-78.4,18.5),(-76.2,18.2),(-77.2,17.7)]],
    "Haiti": [[(-74.4,18.5),(-73,19.9),(-71.7,19.8),(-71.8,18.1),(-73.5,18)]],
    "Dominican Rep": [[(-71.7,19.8),(-69.5,19.5),(-68.4,18.6),(-71,18),(-71.8,18.1)]],
    "Puerto Rico": [[(-67.2,18.5),(-65.7,18.4),(-66.5,18)]],
    "Bahamas": [[(-78.3,25.2),(-77.5,26.7),(-77,26.2),(-77.8,24.5)], [(-76.5,25.5),(-76,25),(-75.5,24.2),(-76,24.5)]],
    "Trinidad": [[(-61.8,10.7),(-61,10.8),(-61,10.1),(-61.9,10.1)]],
    "Curacao": [[(-69.2,12.4),(-68.7,12.1),(-69,12)]],
    "Eastern Caribbean": [[(-61.5,15.6),(-61.2,15.4),(-61.4,15.2)], [(-61.1,14),(-60.8,13.9),(-61,13.6)], [(-61.8,12.3),(-61.5,12.2),(-61.7,12)]],
    "Galapagos": [[(-91.5,-0.3),(-90.7,-0.3),(-91,-1)]],
    "Colombia": [[(-77.3,8.7),(-75.5,10.8),(-72,12.2),(-71.3,11.8),(-72.5,9),(-72,7),(-67.5,6),(-67.3,2),(-70,1.7),(-70,-2.5),(-69.9,-4.3),(-70,-2.5),(-73,-2),(-75.2,-0.1),(-78.8,1.4),(-77.3,4),(-77.8,7.3)]],
    "Venezuela": [[(-71.3,11.8),(-72,11),(-68,10.6),(-64,10.5),(-60,8.5),(-61,5),(-60,5),(-64,4),(-64,1.5),(-67,1.2),(-67.3,2),(-67.5,6),(-72,7),(-72.5,9)]],
    "Guyana": [[(-60,8.5),(-57,6),(-58,1.5),(-60,1.5),(-60,5),(-61,5)]],
    "Suriname": [[(-57,6),(-54,5.9),(-54.5,2.3),(-58,1.5)]],
    "French Guiana": [[(-54,5.9),(-51.7,4.2),(-54.5,2.3)]],
    "Ecuador": [[(-78.8,1.4),(-75.2,-0.1),(-75.5,-1.5),(-78.5,-4.7),(-80.3,-3.4),(-81,-2),(-80,0.8)]],
    "Peru": [[(-81,-4.5),(-80.3,-3.4),(-78.5,-4.7),(-75.5,-1.5),(-75.2,-0.1),(-73,-2),(-70,-2.5),(-69.9,-4.3),(-73,-7.3),(-70.5,-11),(-69,-11),(-69,-16),(-69.5,-17.5),(-70.4,-18.3),(-76,-14),(-79,-8)]],
    "Brazil": [[(-51.7,4.2),(-50,1),(-48,-1),(-44,-2.5),(-39,-3),(-35,-5.2),(-35,-8.8),(-39,-14),(-39,-18),(-41,-22),(-46,-24),(-48.5,-26),(-49,-29),(-52,-32),(-53.5,-33.7),(-55.7,-30.9),(-57.6,-30.2),(-53.8,-27),(-54.6,-25.6),(-54.3,-24),(-55.5,-24),(-58,-22),(-58,-20),(-57.8,-18),(-60,-16.3),(-60.3,-13.6),(-65,-12),(-65.3,-10),(-69,-11),(-70.5,-11),(-73,-7.3),(-69.9,-4.3),(-70,-2.5),(-70,1.7),(-67.3,2),(-67,1.2),(-64,1.5),(-64,4),(-60,5),(-60,1.5),(-58,1.5),(-54.5,2.3)]],
    "Bolivia": [[(-69,-11),(-65.3,-10),(-65,-12),(-60.3,-13.6),(-60,-16.3),(-57.8,-18),(-58,-20),(-62.5,-22),(-67,-22.8),(-68.5,-20),(-69.5,-17.5),(-69,-16)]],
    "Paraguay": [[(-58,-20),(-58,-22),(-55.5,-24),(-54.3,-24),(-54.6,-25.6),(-56,-27.3),(-58.6,-27.2),(-57.6,-25.3),(-62.5,-22)]],
    "Uruguay": [[(-57.6,-30.2),(-55.7,-30.9),(-53.5,-33.7),(-55,-34.9),(-58.4,-34),(-58,-32)]],
    "Argentina": [[(-67,-22.8),(-62.5,-22),(-57.6,-25.3),(-58.6,-27.2),(-56,-27.3),(-54.6,-25.6),(-53.8,-27),(-57.6,-30.2),(-58,-32),(-58.4,-34),(-57,-36),(-57.7,-38),(-62,-39),(-65,-41),(-63.6,-42.5),(-67.5,-46),(-65.8,-47.5),(-69,-50.5),(-68.4,-52.3),(-71.5,-52),(-72.5,-50),(-71.8,-45),(-71.5,-40),(-70.5,-36),(-70,-32),(-69,-27),(-68.4,-24.5)], [(-68.6,-52.7),(-65.2,-54.8),(-68.6,-55)]],
    "Chile": [[(-70.4,-18.3),(-69.5,-17.5),(-68.5,-20),(-67,-22.8),(-68.4,-24.5),(-69,-27),(-70,-32),(-70.5,-36),(-71.5,-40),(-71.8,-45),(-72.5,-50),(-71.5,-52),(-68.4,-52.3),(-70,-53),(-74,-52),(-75.5,-48),(-73.5,-42),(-73.5,-37),(-71.5,-30),(-70.5,-25)], [(-68.6,-52.7),(-68.6,-55),(-71,-54.5),(-70,-53.5)]],
    "Falklands": [[(-61,-51.5),(-58,-51.3),(-59,-52.3)]],
}

FILL = dict(none="#F1F5FC", research="#B0DFD3", pilot="#F2CBAE", proof="#AD9FDB", launched="#5AA3EE", cancelled="#F0788A")
EDGE = dict(none="#E3EAF5", research="#74BFAA", pilot="#E0AC84", proof="#9384CC", launched="#3F80D2", cancelled="#CF4F66")


# d3 wants outer rings clockwise, else the fill covers the rest of the globe
def ring(points):
    pts = [list(p) for p in points]
    area = sum(a[0] * b[1] - b[0] * a[1] for a, b in zip(pts, pts[1:] + pts[:1]))
    if area > 0:
        pts.reverse()
    return pts + [pts[0]]


def rings_lonlat(names):
    lon, lat = [], []
    for name in names:
        for poly in outlines[name]:
            closed = ring(poly)
            lon += [p[0] for p in closed] + [None]
            lat += [p[1] for p in closed] + [None]
    return lon[:-1], lat[:-1]


def rounded(x0, y0, x1, y1, r):
    return (f"M{x0+r},{y0} L{x1-r},{y0} Q{x1},{y0} {x1},{y0+r} L{x1},{y1-r} Q{x1},{y1} {x1-r},{y1} "
            f"L{x0+r},{y1} Q{x0},{y1} {x0},{y1-r} L{x0},{y0+r} Q{x0},{y0} {x0+r},{y0} Z")


fig = go.Figure()
for names, key in [(no_status, "none"), (research, "research"), (pilot, "pilot"), (proof_of_concept, "proof"),
                   (launched, "launched"), (cancelled, "cancelled"), (enclaves, "none")]:
    lon, lat = rings_lonlat(names)
    fig.add_trace(go.Scattergeo(lon=lon, lat=lat, mode="lines", fill="toself", fillcolor=FILL[key],
                                line=dict(color=EDGE[key], width=0.9), hoverinfo="skip", name=key))

# slider track and handle
fig.add_trace(go.Scatter(x=[100, 1108], y=[634, 634], mode="lines", line=dict(color="#E6EEF6", width=3),
                         hoverinfo="skip", showlegend=False))
fig.add_trace(go.Scatter(x=[1108], y=[634], mode="markers", marker=dict(color="#0E4496", size=7),
                         hoverinfo="skip", showlegend=False))

# plotly fits the range with some slack, so the domain is wider than the drawn map
fig.update_geos(visible=False, bgcolor="rgba(0,0,0,0)", projection_type="miller",
                lonaxis_range=[-180, 180], lataxis_range=[-60, 85],
                domain=dict(x=[68.5 / 1200, 1132.5 / 1200], y=[(646 - 623.5) / 646, (646 - 74.5) / 646]))

shapes = [
    dict(type="line", x0=0, x1=1200, y0=61, y1=61, line=dict(color="#EEF1F6", width=1)),
    dict(type="path", path=rounded(672, 12, 1195, 43, 6), line=dict(color="#EEF2F8", width=1), fillcolor="white"),
    dict(type="path", path=rounded(6, 566, 1194, 660, 8), line=dict(color="#EEF2F8", width=1), fillcolor="rgba(0,0,0,0)"),
    dict(type="rect", x0=1159, x1=1190, y0=79, y1=111, line_width=0, fillcolor="#F4F7FC"),
    dict(type="rect", x0=1159, x1=1190, y0=123, y1=155, line_width=0, fillcolor="#F4F7FC"),
    dict(type="rect", x0=1168, x1=1181, y0=88, y1=100, line=dict(color="#7E94B6", width=1)),
    dict(type="rect", x0=1168, x1=1181, y0=132, y1=144, line=dict(color="#7E94B6", width=1)),
    dict(type="path", path=rounded(1064, 581, 1152, 618, 7), line_width=0, fillcolor="#0E4496"),
    dict(type="path", path="M1102,618 L1108,624 L1114,618 Z", line_width=0, fillcolor="#0E4496"),
    dict(type="path", path="M10,546 L20,546 Q26,546 29,541 Q33,535 38,541 Q43,547 55,546", line=dict(color="#C8C8C8", width=1)),
    dict(type="path", path="M24,546 Q30,545 34,540 Q39,534 43,540 Q46,545 50,546", line=dict(color="#D8D8D8", width=1)),
]
swatches = [(682, "cancelled"), (773, "research"), (862, "proof"), (986, "pilot"), (1050, "launched")]
for x, key in swatches:
    shapes.append(dict(type="path", path=rounded(x, 20, x + 13, 33, 2), line=dict(color=EDGE[key], width=1), fillcolor=FILL[key]))


def label(x, y, text, color, size=11, anchor="left", bold=False):
    text = f"<b>{text}</b>" if bold else text
    return dict(x=x, y=y, xref="x", yref="y", text=text, showarrow=False, xanchor=anchor, yanchor="middle",
                xshift=-2 if anchor == "left" else 0, font=dict(family="Noto Sans", size=size, color=color))


annotations = [
    label(6, 15, "Today's Central Bank Digital Currencies Status", "#1B4187", 14, bold=True),
    label(6, 39, "Database update:", "#9AA8C2"),
    label(100, 39, "April 2024", "#3A4250"),
    label(161, 39, "•", "#8FA0BE"),
    label(173, 39, "News update:", "#9AA8C2"),
    label(247, 39, "Jan, 05 24", "#3A4250"),
    label(703, 27, "Cancelled", "#3E4756"),
    label(794, 27, "Research", "#3E4756"),
    label(883, 27, "Proof of concept", "#3E4756"),
    label(1007, 27, "Pilot", "#3E4756"),
    label(1071, 27, "Launched", "#3E4756"),
    label(1141, 27, "Show all", "#4E6A9C"),
    label(1174.5, 94, "+", "#7E94B6", 10, anchor="center"),
    label(1174.5, 138, "-", "#7E94B6", 10, anchor="center"),
    label(20, 584, "Historic state", "#9AA8C4"),
    label(20, 633, "2014", "#CDD7E5", 9.5, bold=True),
    label(1181, 633, "Now", "#CDD7E5", 9.5, anchor="right", bold=True),
    label(1108, 600, "April 2024", "white", 11.5, anchor="center", bold=True),
]

fig.update_layout(width=1200, height=646, margin=dict(l=0, r=0, t=0, b=0), paper_bgcolor="white", plot_bgcolor="rgba(0,0,0,0)",
                  showlegend=False, shapes=shapes, annotations=annotations,
                  xaxis=dict(range=[0, 1200], visible=False, domain=[0, 1], fixedrange=True),
                  yaxis=dict(range=[646, 0], visible=False, domain=[0, 1], fixedrange=True))
# the default page body has an 8px margin; the figure should sit flush with the window
fig.write_html("out.html", config=dict(displayModeBar=False), post_script="document.body.style.margin='0';")
